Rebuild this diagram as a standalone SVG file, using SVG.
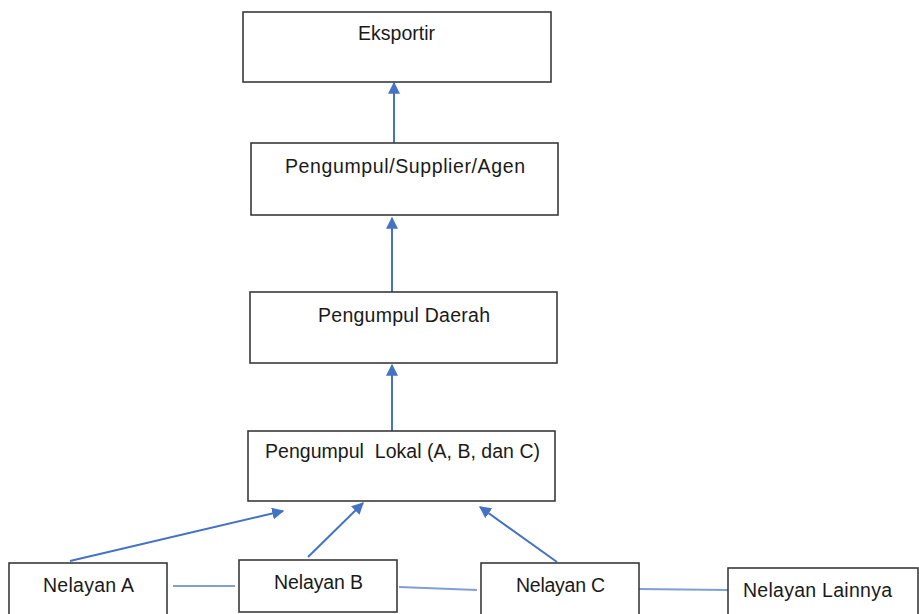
<svg xmlns="http://www.w3.org/2000/svg" width="919" height="614" viewBox="0 0 919 614">
<style>
.box{fill:#fff;stroke:#3a3a3a;stroke-width:1.6}
.lbl{font-family:"Liberation Sans",Arial,sans-serif;font-size:19.5px;fill:#1a1a1a;text-anchor:start}
.arr{stroke:#4472c4;stroke-width:2;fill:none;marker-end:url(#ah)}
.lnk{stroke:#7f9fd6;stroke-width:1.8;fill:none}
</style>
<defs>
<marker id="ah" viewBox="0 0 10 10" refX="9" refY="5" markerWidth="6" markerHeight="6" orient="auto" markerUnits="strokeWidth">
<path d="M0,0 L10,5 L0,10 z" fill="#4472c4"/>
</marker>
</defs>
<rect width="919" height="614" fill="#fff"/>
<g id="connectors">
<line class="arr" x1="394" y1="143" x2="394" y2="83"/>
<line class="arr" x1="392" y1="292" x2="392" y2="218"/>
<line class="arr" x1="392" y1="431" x2="392" y2="365"/>
<line class="arr" x1="70" y1="561" x2="283" y2="511"/>
<line class="arr" x1="308" y1="557" x2="363" y2="503"/>
<line class="arr" x1="557" y1="562" x2="480" y2="507"/>
<line class="lnk" x1="173" y1="586" x2="235" y2="586"/>
<line class="lnk" x1="399" y1="587" x2="477" y2="590"/>
<line class="lnk" x1="638" y1="589" x2="728" y2="590"/>
</g>
<g id="eksportir">
<rect class="box" x="243" y="12" width="308" height="70"/>
<text class="lbl" x="358" y="40" textLength="77">Eksportir</text>
</g>
<g id="supplier">
<rect class="box" x="251" y="143" width="307" height="72"/>
<text class="lbl" x="285" y="173" textLength="240">Pengumpul/Supplier/Agen</text>
</g>
<g id="daerah">
<rect class="box" x="250" y="292" width="307" height="71"/>
<text class="lbl" x="318" y="322" textLength="172">Pengumpul Daerah</text>
</g>
<g id="lokal">
<rect class="box" x="248" y="431" width="307" height="70"/>
<text class="lbl" x="265" y="458" textLength="275" xml:space="preserve">Pengumpul  Lokal (A, B, dan C)</text>
</g>
<g id="nelayanA">
<rect class="box" x="9" y="563" width="158" height="60"/>
<text class="lbl" x="43" y="592" textLength="91">Nelayan A</text>
</g>
<g id="nelayanB">
<rect class="box" x="239" y="560" width="158" height="52"/>
<text class="lbl" x="274" y="589" textLength="89">Nelayan B</text>
</g>
<g id="nelayanC">
<rect class="box" x="481" y="563" width="158" height="60"/>
<text class="lbl" x="516" y="592" textLength="89">Nelayan C</text>
</g>
<g id="nelayanLain">
<rect class="box" x="728" y="568" width="190" height="60"/>
<text class="lbl" x="743" y="597" textLength="149">Nelayan Lainnya</text>
</g>
</svg>
